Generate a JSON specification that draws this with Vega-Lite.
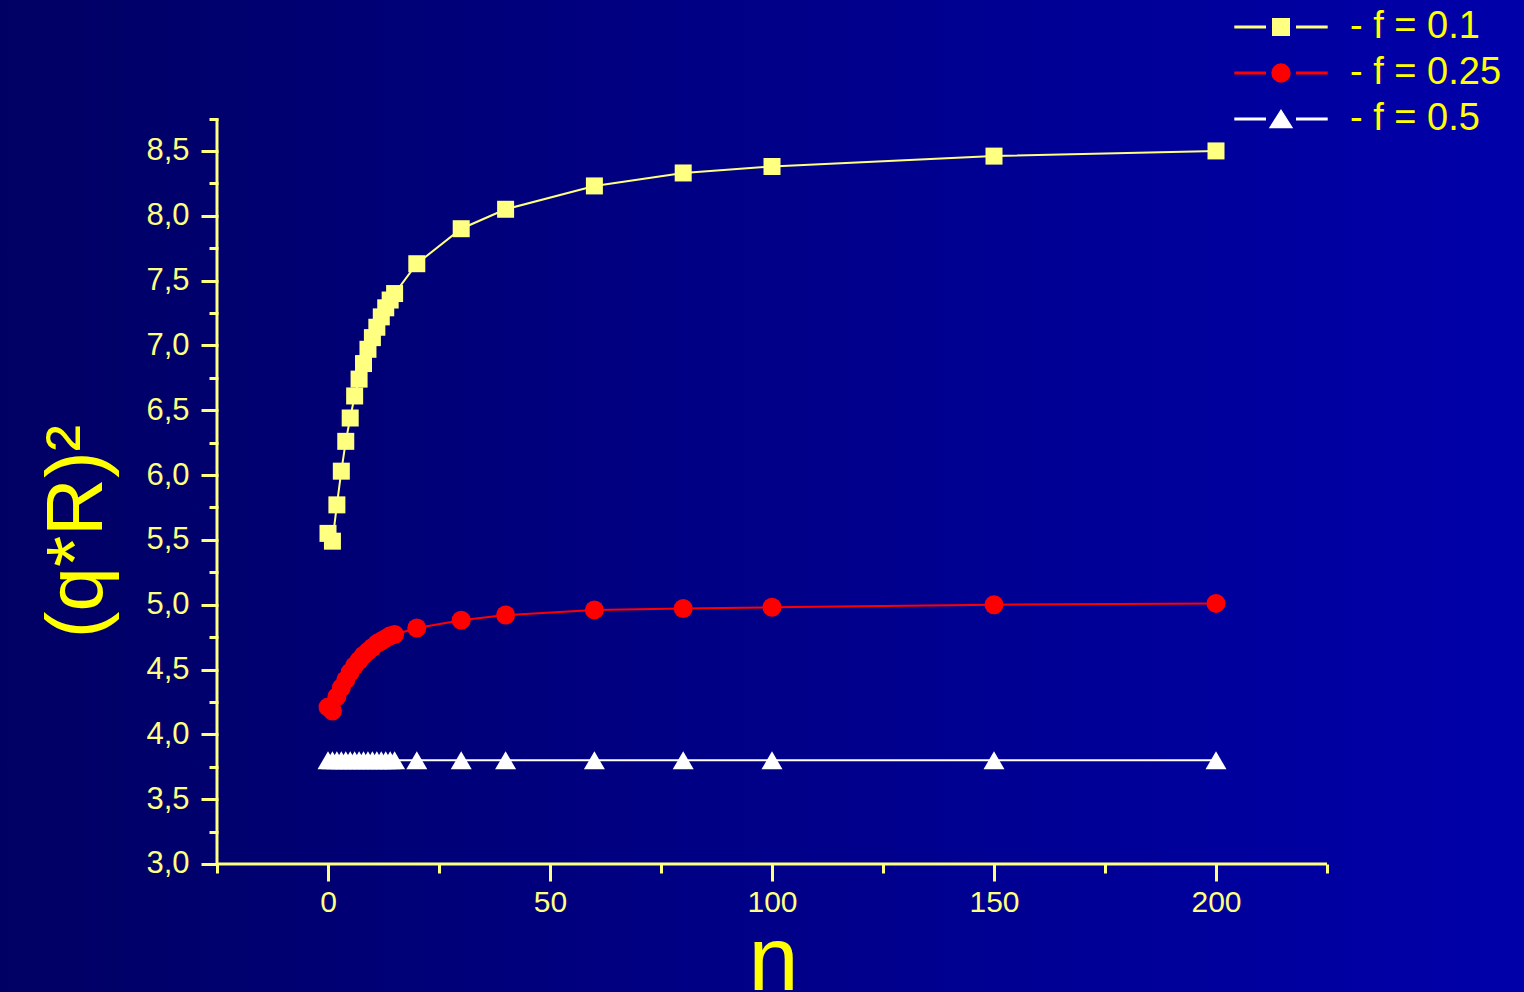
{
  "$schema": "https://vega.github.io/schema/vega-lite/v6.json",
  "width": 1524,
  "height": 992,
  "padding": 0,
  "autosize": {"type": "none"},
  "background": "#000084",
  "config": {"view": {"stroke": null}},
  "data": {
    "values": [
      {"n": 0, "v": 5.55, "f": "0.1"},
      {"n": 1, "v": 5.49, "f": "0.1"},
      {"n": 2, "v": 5.77, "f": "0.1"},
      {"n": 3, "v": 6.03, "f": "0.1"},
      {"n": 4, "v": 6.26, "f": "0.1"},
      {"n": 5, "v": 6.44, "f": "0.1"},
      {"n": 6, "v": 6.61, "f": "0.1"},
      {"n": 7, "v": 6.74, "f": "0.1"},
      {"n": 8, "v": 6.86, "f": "0.1"},
      {"n": 9, "v": 6.97, "f": "0.1"},
      {"n": 10, "v": 7.06, "f": "0.1"},
      {"n": 11, "v": 7.14, "f": "0.1"},
      {"n": 12, "v": 7.22, "f": "0.1"},
      {"n": 13, "v": 7.29, "f": "0.1"},
      {"n": 14, "v": 7.35, "f": "0.1"},
      {"n": 15, "v": 7.40, "f": "0.1"},
      {"n": 20, "v": 7.63, "f": "0.1"},
      {"n": 30, "v": 7.90, "f": "0.1"},
      {"n": 40, "v": 8.05, "f": "0.1"},
      {"n": 60, "v": 8.23, "f": "0.1"},
      {"n": 80, "v": 8.33, "f": "0.1"},
      {"n": 100, "v": 8.38, "f": "0.1"},
      {"n": 150, "v": 8.46, "f": "0.1"},
      {"n": 200, "v": 8.50, "f": "0.1"},
      {"n": 0, "v": 4.21, "f": "0.25"},
      {"n": 1, "v": 4.18, "f": "0.25"},
      {"n": 2, "v": 4.29, "f": "0.25"},
      {"n": 3, "v": 4.36, "f": "0.25"},
      {"n": 4, "v": 4.42, "f": "0.25"},
      {"n": 5, "v": 4.48, "f": "0.25"},
      {"n": 6, "v": 4.53, "f": "0.25"},
      {"n": 7, "v": 4.57, "f": "0.25"},
      {"n": 8, "v": 4.61, "f": "0.25"},
      {"n": 9, "v": 4.64, "f": "0.25"},
      {"n": 10, "v": 4.67, "f": "0.25"},
      {"n": 11, "v": 4.70, "f": "0.25"},
      {"n": 12, "v": 4.72, "f": "0.25"},
      {"n": 13, "v": 4.74, "f": "0.25"},
      {"n": 14, "v": 4.76, "f": "0.25"},
      {"n": 15, "v": 4.77, "f": "0.25"},
      {"n": 20, "v": 4.82, "f": "0.25"},
      {"n": 30, "v": 4.88, "f": "0.25"},
      {"n": 40, "v": 4.92, "f": "0.25"},
      {"n": 60, "v": 4.96, "f": "0.25"},
      {"n": 80, "v": 4.97, "f": "0.25"},
      {"n": 100, "v": 4.98, "f": "0.25"},
      {"n": 150, "v": 5.00, "f": "0.25"},
      {"n": 200, "v": 5.01, "f": "0.25"},
      {"n": 0, "v": 3.80, "f": "0.5"},
      {"n": 1, "v": 3.80, "f": "0.5"},
      {"n": 2, "v": 3.80, "f": "0.5"},
      {"n": 3, "v": 3.80, "f": "0.5"},
      {"n": 4, "v": 3.80, "f": "0.5"},
      {"n": 5, "v": 3.80, "f": "0.5"},
      {"n": 6, "v": 3.80, "f": "0.5"},
      {"n": 7, "v": 3.80, "f": "0.5"},
      {"n": 8, "v": 3.80, "f": "0.5"},
      {"n": 9, "v": 3.80, "f": "0.5"},
      {"n": 10, "v": 3.80, "f": "0.5"},
      {"n": 11, "v": 3.80, "f": "0.5"},
      {"n": 12, "v": 3.80, "f": "0.5"},
      {"n": 13, "v": 3.80, "f": "0.5"},
      {"n": 14, "v": 3.80, "f": "0.5"},
      {"n": 15, "v": 3.80, "f": "0.5"},
      {"n": 20, "v": 3.80, "f": "0.5"},
      {"n": 30, "v": 3.80, "f": "0.5"},
      {"n": 40, "v": 3.80, "f": "0.5"},
      {"n": 60, "v": 3.80, "f": "0.5"},
      {"n": 80, "v": 3.80, "f": "0.5"},
      {"n": 100, "v": 3.80, "f": "0.5"},
      {"n": 150, "v": 3.80, "f": "0.5"},
      {"n": 200, "v": 3.80, "f": "0.5"}
    ]
  },
  "layer": [
    {
      "data": {"values": [{}]},
      "mark": {
        "type": "rect",
        "opacity": 1,
        "fill": {
          "gradient": "linear", "x1": 0, "y1": 0, "x2": 1, "y2": 0,
          "stops": [
            {"offset": 0, "color": "#000064"},
            {"offset": 0.5, "color": "#000088"},
            {"offset": 1, "color": "#0000aa"}
          ]
        }
      },
      "encoding": {}
    },
    {
      "data": {"values": [{}]},
      "mark": {"type": "rule", "color": "#ffff80", "strokeWidth": 3},
      "encoding": {
        "x": {"datum": -25, "type": "quantitative"},
        "x2": {"datum": 225},
        "y": {"datum": 3, "type": "quantitative"}
      }
    },
    {
      "data": {"values": [{}]},
      "mark": {"type": "rule", "color": "#ffff80", "strokeWidth": 3},
      "encoding": {
        "x": {"datum": -25, "type": "quantitative"},
        "y": {"datum": 3, "type": "quantitative"},
        "y2": {"datum": 8.75}
      }
    },
    {
      "transform": [{"filter": "datum.f === '0.1'"}],
      "mark": {"type": "line", "strokeWidth": 2, "color": "#ffff80"},
      "encoding": {
        "x": {
          "field": "n", "type": "quantitative",
          "scale": {"domain": [-73.874, 269.369], "nice": false, "zero": false},
          "axis": {
            "zindex": 1,
            "orient": "bottom", "offset": -128, "domain": false, "grid": false,
            "values": [-25, 0, 25, 50, 75, 100, 125, 150, 175, 200, 225],
            "labelExpr": "datum.value % 50 === 0 ? datum.label : ''",
            "tickSize": {"condition": {"test": "datum.value % 50 === 0", "value": 17}, "value": 9},
            "tickColor": "#ffff80", "tickWidth": 3,
            "labelColor": "#ffff80", "labelFontSize": 30, "labelFont": "Liberation Sans",
            "labelPadding": 6, "labelFlush": false, "labelOverlap": false,
            "title": "n", "titleFontSize": 90, "titleColor": "#ffff00", "titleFont": "Liberation Sans",
            "titleFontWeight": "normal", "titleX": 773, "titleY": 125, "titleBaseline": "alphabetic", "titleAlign": "center"
          }
        },
        "y": {
          "field": "v", "type": "quantitative",
          "scale": {"domain": [2.0127, 9.6641], "nice": false, "zero": false},
          "axis": {
            "zindex": 1,
            "orient": "left", "offset": -218, "domain": false, "grid": false,
            "values": [3, 3.25, 3.5, 3.75, 4, 4.25, 4.5, 4.75, 5, 5.25, 5.5, 5.75, 6, 6.25, 6.5, 6.75, 7, 7.25, 7.5, 7.75, 8, 8.25, 8.5, 8.75],
            "labelExpr": "datum.value % 0.5 === 0 ? replace(format(datum.value, '.1f'), '.', ',') : ''",
            "tickSize": {"condition": {"test": "datum.value % 0.5 === 0", "value": 17}, "value": 9},
            "tickColor": "#ffff80", "tickWidth": 3,
            "labelColor": "#ffff80", "labelFontSize": 31, "labelFont": "Liberation Sans",
            "labelPadding": 12, "labelFlush": false, "labelOverlap": false,
            "title": "(q*R)²", "titleFontSize": 80, "titleColor": "#ffff00", "titleFont": "Liberation Sans",
            "titleFontWeight": "normal", "titleAngle": -90, "titleX": -117, "titleY": 531, "titleBaseline": "alphabetic", "titleAlign": "center"
          }
        },
        "order": {"field": "n", "type": "quantitative"}
      }
    },
    {
      "transform": [{"filter": "datum.f === '0.25'"}],
      "mark": {"type": "line", "strokeWidth": 2, "color": "#ff0000"},
      "encoding": {
        "x": {"field": "n", "type": "quantitative"},
        "y": {"field": "v", "type": "quantitative"},
        "order": {"field": "n", "type": "quantitative"}
      }
    },
    {
      "transform": [{"filter": "datum.f === '0.5'"}],
      "mark": {"type": "line", "strokeWidth": 2, "color": "#ffffff"},
      "encoding": {
        "x": {"field": "n", "type": "quantitative"},
        "y": {"field": "v", "type": "quantitative"},
        "order": {"field": "n", "type": "quantitative"}
      }
    },
    {
      "transform": [{"filter": "datum.f === '0.1'"}],
      "mark": {"type": "point", "filled": true, "opacity": 1, "strokeWidth": 0, "shape": "square", "size": 289, "color": "#ffff80"},
      "encoding": {
        "x": {"field": "n", "type": "quantitative"},
        "y": {"field": "v", "type": "quantitative"}
      }
    },
    {
      "transform": [{"filter": "datum.f === '0.25'"}],
      "mark": {"type": "point", "filled": true, "opacity": 1, "strokeWidth": 0, "shape": "circle", "size": 361, "color": "#ff0000"},
      "encoding": {
        "x": {"field": "n", "type": "quantitative"},
        "y": {"field": "v", "type": "quantitative"}
      }
    },
    {
      "transform": [{"filter": "datum.f === '0.5'"}],
      "mark": {"type": "point", "filled": true, "opacity": 1, "strokeWidth": 0, "shape": "triangle-up", "size": 440, "color": "#ffffff"},
      "encoding": {
        "x": {"field": "n", "type": "quantitative"},
        "y": {"field": "v", "type": "quantitative"}
      }
    },
    {
      "mark": {"type": "point", "filled": true, "opacity": 0},
      "encoding": {
        "x": {"field": "n", "type": "quantitative"},
        "y": {"field": "v", "type": "quantitative"},
        "fill": {
          "field": "f", "type": "nominal",
          "scale": {"domain": ["0.1", "0.25", "0.5"], "range": ["#ffff80", "#ff0000", "#ffffff"]},
          "legend": {
            "orient": "none", "legendX": 1262, "legendY": 8, "title": null, "padding": 0,
            "symbolSize": 400, "symbolOpacity": 1, "symbolStrokeWidth": 3,
            "labelOffset": 50, "labelFontSize": 38, "labelFont": "Liberation Sans",
            "labelColor": "#ffff00", "labelLimit": 400, "rowPadding": 8,
            "labelExpr": "'- f = ' + datum.label"
          }
        },
        "stroke": {
          "field": "f", "type": "nominal",
          "scale": {"domain": ["0.1", "0.25", "0.5"], "range": ["#ffff80", "#ff0000", "#ffffff"]},
          "legend": {
            "orient": "none", "legendX": 1262, "legendY": 8, "title": null, "padding": 0,
            "symbolSize": 400, "symbolOpacity": 1, "symbolStrokeWidth": 3,
            "labelOffset": 50, "labelFontSize": 38, "labelFont": "Liberation Sans",
            "labelColor": "#ffff00", "labelLimit": 400, "rowPadding": 8,
            "labelExpr": "'- f = ' + datum.label"
          }
        },
        "shape": {
          "field": "f", "type": "nominal",
          "scale": {
            "domain": ["0.1", "0.25", "0.5"],
            "range": [
              "M-4.67,0H-1.5M1.5,0H4.67M-0.75,-0.75H0.75V0.75H-0.75Z",
              "M-4.67,0H-1.5M1.5,0H4.67M0.82,0A0.82,0.82,0,1,1,-0.82,0A0.82,0.82,0,1,1,0.82,0Z",
              "M-4.67,0H-1.5M1.5,0H4.67M0,-0.72L0.95,0.78H-0.95Z"
            ]
          },
          "legend": {
            "orient": "none", "legendX": 1262, "legendY": 8, "title": null, "padding": 0,
            "symbolSize": 400, "symbolOpacity": 1, "symbolStrokeWidth": 3,
            "labelOffset": 50, "labelFontSize": 38, "labelFont": "Liberation Sans",
            "labelColor": "#ffff00", "labelLimit": 400, "rowPadding": 8,
            "labelExpr": "'- f = ' + datum.label"
          }
        }
      }
    }
  ]
}
